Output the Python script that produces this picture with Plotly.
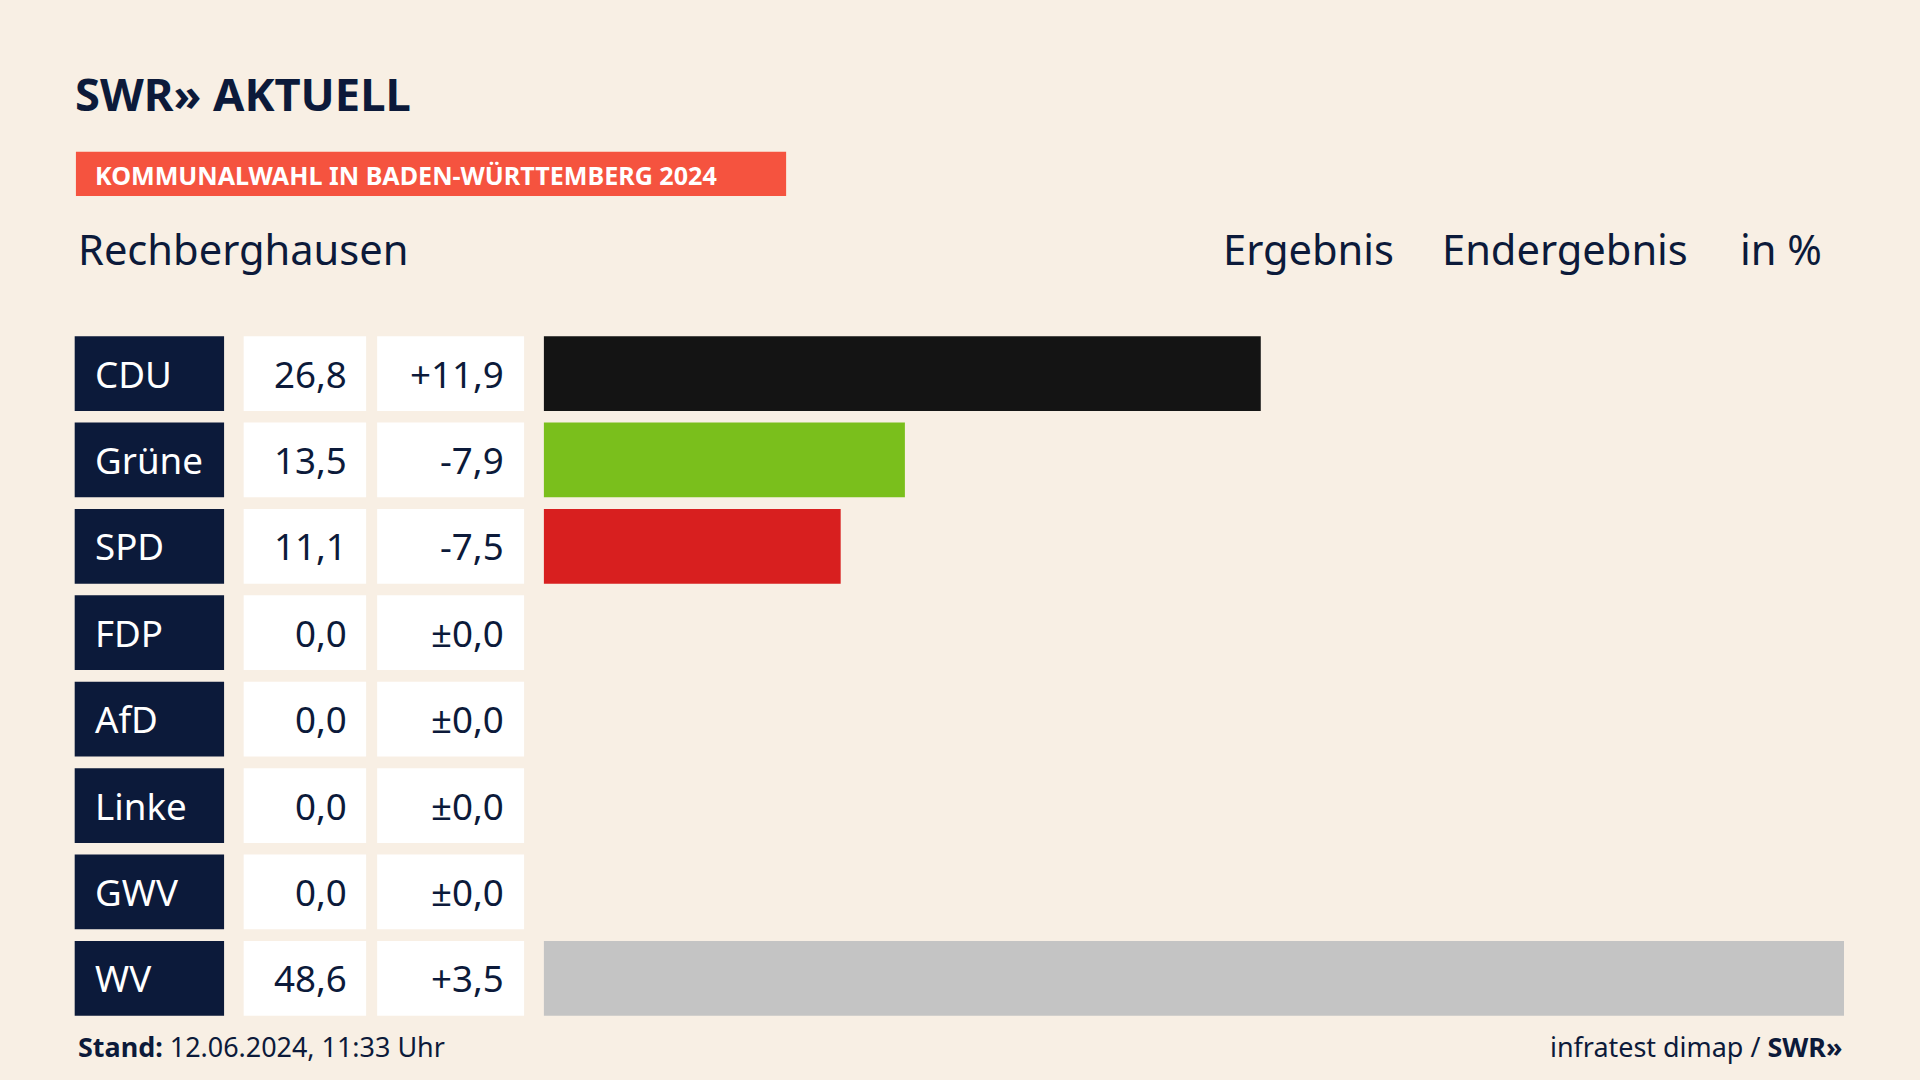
import plotly.graph_objects as go

parties = ["CDU", "Grüne", "SPD", "FDP", "AfD", "Linke", "GWV", "WV"]
results = [26.8, 13.5, 11.1, 0.0, 0.0, 0.0, 0.0, 48.6]
diffs = ["+11,9", "-7,9", "-7,5", "±0,0", "±0,0", "±0,0", "±0,0", "+3,5"]
colors = ["#141414", "#7abf1c", "#d81f1f", "#f4dc00", "#00a0e6", "#be3075", "#888888", "#c4c4c4"]

W, H = 1920, 1080
S = W / 1568
NAVY = "#0c1a3a"
FONT = "Noto Sans"

def px(x):
    return x / 1568

def py(y):
    return 1 - y / 882

fig = go.Figure()
fig.add_trace(go.Bar(
    x=results, y=parties, orientation="h",
    marker=dict(color=colors, line=dict(width=0)),
    width=0.865, hoverinfo="skip",
))

shapes, ann = [], []
for i, p in enumerate(parties):
    for x0, x1, c in [(61, 183, NAVY), (199, 299, "white"), (308, 428, "white")]:
        shapes.append(dict(type="rect", xref="paper", yref="y", x0=px(x0), x1=px(x1),
                           y0=i - 0.4325, y1=i + 0.4325, fillcolor=c, line=dict(width=0), layer="below"))
    ann.append(dict(text=p, x=px(76), y=p, xref="paper", yref="y", xanchor="left",
                    showarrow=False, font=dict(family=FONT, size=30 * S, color="white")))
    ann.append(dict(text=f"{results[i]:.1f}".replace(".", ","), x=px(285), y=p, xref="paper", yref="y",
                    xanchor="right", showarrow=False, font=dict(family=FONT, size=30 * S, color=NAVY)))
    ann.append(dict(text=diffs[i], x=px(413), y=p, xref="paper", yref="y",
                    xanchor="right", showarrow=False, font=dict(family=FONT, size=30 * S, color=NAVY)))

shapes.append(dict(type="rect", xref="paper", yref="paper", x0=px(62), x1=px(642),
                   y0=py(160), y1=py(124), fillcolor="#f5533f", line=dict(width=0)))

def txt(t, x, y, size, anchor="left", bold=False, color=NAVY):
    ann.append(dict(text=f"<b>{t}</b>" if bold else t, x=px(x), y=py(y), xref="paper", yref="paper",
                    xanchor=anchor, yanchor="middle", showarrow=False,
                    font=dict(family=FONT, size=size * S, color=color)))

txt("SWR» AKTUELL", 60, 76, 37, bold=True)
txt("KOMMUNALWAHL IN BADEN-WÜRTTEMBERG 2024", 76, 143, 20.5, bold=True, color="white")
txt("Rechberghausen", 62, 203, 34)
txt("Ergebnis", 1140, 203, 34, anchor="right")
txt("Endergebnis", 1380, 203, 34, anchor="right")
txt("in %", 1490, 203, 34, anchor="right")
txt("<b>Stand:</b> 12.06.2024, 11:33 Uhr", 62, 855, 22)
txt("infratest dimap / <b>SWR»</b>", 1506, 855, 22, anchor="right")

fig.update_layout(
    width=W, height=H, margin=dict(l=0, r=0, t=0, b=0),
    paper_bgcolor="#f8efe4", plot_bgcolor="rgba(0,0,0,0)",
    showlegend=False, shapes=shapes, annotations=ann,
    xaxis=dict(domain=[px(444), px(1506)], range=[0, 48.6], visible=False, fixedrange=True),
    yaxis=dict(domain=[py(834.25), py(269.75)], range=[7.5, -0.5], visible=False, fixedrange=True),
)

fig.write_html("out.html", config={"displayModeBar": False},
               post_script="document.body.style.margin='0';")
